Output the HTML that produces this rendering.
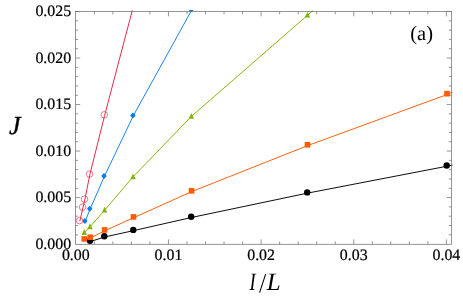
<!DOCTYPE html>
<html><head><meta charset="utf-8"><title>plot</title>
<style>
html,body{margin:0;padding:0;background:#fff;}
svg{display:block;}
text{font-family:"Liberation Serif",serif;fill:#000;text-rendering:geometricPrecision;}
svg{will-change:transform;}
</style></head>
<body>
<svg width="463" height="302" viewBox="0 0 463 302">
<rect x="0" y="0" width="463" height="302" fill="#fff"/>
<polyline points="452.60,165.15 447.15,166.20 307.65,193.10 191.65,217.45 133.70,230.60 104.75,236.95 90.49,241.50" fill="none" stroke="#000000" stroke-width="0.95"/>
<polyline points="452.60,92.10 447.45,94.40 307.92,145.50 191.95,191.53 133.95,217.60 105.01,230.65 90.60,237.95 84.75,239.65" fill="none" stroke="#ff5a00" stroke-width="0.95"/>
<polyline points="312.90,10.60 307.27,15.45 191.15,116.65 132.80,177.15 104.40,210.45 89.84,227.00 84.05,232.75" fill="none" stroke="#7fb400" stroke-width="0.95"/>
<polyline points="191.60,10.30 133.21,115.94 104.35,176.45 90.05,209.20 85.21,221.40" fill="none" stroke="#0f7bea" stroke-width="0.95"/>
<polyline points="132.30,10.40 104.60,115.50 89.80,174.80 84.80,199.90 82.90,207.85 79.80,221.30" fill="none" stroke="#e4203f" stroke-width="0.95"/>
<circle cx="446.70" cy="165.50" r="3.2" fill="#000000"/>
<circle cx="307.20" cy="192.40" r="3.2" fill="#000000"/>
<circle cx="191.20" cy="216.75" r="3.2" fill="#000000"/>
<circle cx="133.25" cy="229.90" r="3.2" fill="#000000"/>
<circle cx="104.30" cy="236.25" r="3.2" fill="#000000"/>
<circle cx="90.04" cy="240.80" r="3.2" fill="#000000"/>
<rect x="444.20" y="90.90" width="5.6" height="5.6" fill="#ff5a00"/>
<rect x="304.67" y="142.00" width="5.6" height="5.6" fill="#ff5a00"/>
<rect x="188.70" y="188.03" width="5.6" height="5.6" fill="#ff5a00"/>
<rect x="130.70" y="214.10" width="5.6" height="5.6" fill="#ff5a00"/>
<rect x="101.76" y="227.15" width="5.6" height="5.6" fill="#ff5a00"/>
<rect x="87.35" y="234.45" width="5.6" height="5.6" fill="#ff5a00"/>
<rect x="81.50" y="236.15" width="5.6" height="5.6" fill="#ff5a00"/>
<path d="M307.47 11.80 L310.17 17.60 L304.77 17.60 Z" fill="#7fb400"/>
<path d="M191.35 113.00 L194.05 118.80 L188.65 118.80 Z" fill="#7fb400"/>
<path d="M133.00 173.50 L135.70 179.30 L130.30 179.30 Z" fill="#7fb400"/>
<path d="M104.60 206.80 L107.30 212.60 L101.90 212.60 Z" fill="#7fb400"/>
<path d="M90.04 223.35 L92.74 229.15 L87.34 229.15 Z" fill="#7fb400"/>
<path d="M84.25 229.10 L86.95 234.90 L81.55 234.90 Z" fill="#7fb400"/>
<rect x="189.2" y="9.9" width="3.9" height="1.9" fill="#0f7bea"/>
<path d="M132.86 112.54 L134.36 114.04 L135.56 115.54 L134.36 117.04 L132.86 118.54 L131.36 117.04 L130.16 115.54 L131.36 114.04 Z" fill="#0f7bea"/>
<path d="M104.00 173.05 L105.50 174.55 L106.70 176.05 L105.50 177.55 L104.00 179.05 L102.50 177.55 L101.30 176.05 L102.50 174.55 Z" fill="#0f7bea"/>
<path d="M89.70 205.80 L91.20 207.30 L92.40 208.80 L91.20 210.30 L89.70 211.80 L88.20 210.30 L87.00 208.80 L88.20 207.30 Z" fill="#0f7bea"/>
<path d="M84.86 218.00 L86.36 219.50 L87.56 221.00 L86.36 222.50 L84.86 224.00 L83.36 222.50 L82.16 221.00 L83.36 219.50 Z" fill="#0f7bea"/>
<circle cx="104.30" cy="114.80" r="3.3" fill="none" stroke="#e4203f" stroke-width="0.6"/>
<circle cx="89.50" cy="174.10" r="3.3" fill="none" stroke="#e4203f" stroke-width="0.6"/>
<circle cx="84.50" cy="199.20" r="3.3" fill="none" stroke="#e4203f" stroke-width="0.6"/>
<circle cx="82.60" cy="207.15" r="3.3" fill="none" stroke="#e4203f" stroke-width="0.6"/>
<circle cx="79.50" cy="220.60" r="3.3" fill="none" stroke="#e4203f" stroke-width="0.6"/>
<path d="M94.33 244.3 v-2.9 M94.33 11.5 v2.9 M112.86 244.3 v-2.9 M112.86 11.5 v2.9 M131.39 244.3 v-2.9 M131.39 11.5 v2.9 M149.92 244.3 v-2.9 M149.92 11.5 v2.9 M168.45 244.3 v-4.9 M168.45 11.5 v4.9 M186.98 244.3 v-2.9 M186.98 11.5 v2.9 M205.51 244.3 v-2.9 M205.51 11.5 v2.9 M224.04 244.3 v-2.9 M224.04 11.5 v2.9 M242.57 244.3 v-2.9 M242.57 11.5 v2.9 M261.10 244.3 v-4.9 M261.10 11.5 v4.9 M279.63 244.3 v-2.9 M279.63 11.5 v2.9 M298.16 244.3 v-2.9 M298.16 11.5 v2.9 M316.69 244.3 v-2.9 M316.69 11.5 v2.9 M335.22 244.3 v-2.9 M335.22 11.5 v2.9 M353.75 244.3 v-4.9 M353.75 11.5 v4.9 M372.28 244.3 v-2.9 M372.28 11.5 v2.9 M390.81 244.3 v-2.9 M390.81 11.5 v2.9 M409.34 244.3 v-2.9 M409.34 11.5 v2.9 M427.87 244.3 v-2.9 M427.87 11.5 v2.9 M446.40 244.3 v-4.9 M446.40 11.5 v4.9 M75.5 234.80 h2.6 M451.4 234.80 h-2.6 M75.5 225.49 h2.6 M451.4 225.49 h-2.6 M75.5 216.19 h2.6 M451.4 216.19 h-2.6 M75.5 206.88 h2.6 M451.4 206.88 h-2.6 M75.5 197.58 h4.7 M451.4 197.58 h-4.7 M75.5 188.28 h2.6 M451.4 188.28 h-2.6 M75.5 178.97 h2.6 M451.4 178.97 h-2.6 M75.5 169.67 h2.6 M451.4 169.67 h-2.6 M75.5 160.36 h2.6 M451.4 160.36 h-2.6 M75.5 151.06 h4.7 M451.4 151.06 h-4.7 M75.5 141.76 h2.6 M451.4 141.76 h-2.6 M75.5 132.45 h2.6 M451.4 132.45 h-2.6 M75.5 123.15 h2.6 M451.4 123.15 h-2.6 M75.5 113.84 h2.6 M451.4 113.84 h-2.6 M75.5 104.54 h4.7 M451.4 104.54 h-4.7 M75.5 95.24 h2.6 M451.4 95.24 h-2.6 M75.5 85.93 h2.6 M451.4 85.93 h-2.6 M75.5 76.63 h2.6 M451.4 76.63 h-2.6 M75.5 67.32 h2.6 M451.4 67.32 h-2.6 M75.5 58.02 h4.7 M451.4 58.02 h-4.7 M75.5 48.72 h2.6 M451.4 48.72 h-2.6 M75.5 39.41 h2.6 M451.4 39.41 h-2.6 M75.5 30.11 h2.6 M451.4 30.11 h-2.6 M75.5 20.80 h2.6 M451.4 20.80 h-2.6 M75.5 11.50 h4.7 M451.4 11.50 h-4.7" fill="none" stroke="#737373" stroke-width="0.75"/>
<rect x="75.5" y="11.5" width="375.90" height="232.80" fill="none" stroke="#737373" stroke-width="0.75"/>
<g>
<text x="71.2" y="248.70" text-anchor="end" font-size="15.9" stroke="#000" stroke-width="0.22">0.000</text>
<text x="71.2" y="202.18" text-anchor="end" font-size="15.9" stroke="#000" stroke-width="0.22">0.005</text>
<text x="71.2" y="155.66" text-anchor="end" font-size="15.9" stroke="#000" stroke-width="0.22">0.010</text>
<text x="71.2" y="109.14" text-anchor="end" font-size="15.9" stroke="#000" stroke-width="0.22">0.015</text>
<text x="71.2" y="62.62" text-anchor="end" font-size="15.9" stroke="#000" stroke-width="0.22">0.020</text>
<text x="71.2" y="16.10" text-anchor="end" font-size="15.9" stroke="#000" stroke-width="0.22">0.025</text>
<text x="75.80" y="259.6" text-anchor="middle" font-size="15.9" stroke="#000" stroke-width="0.22">0.00</text>
<text x="168.45" y="259.6" text-anchor="middle" font-size="15.9" stroke="#000" stroke-width="0.22">0.01</text>
<text x="261.10" y="259.6" text-anchor="middle" font-size="15.9" stroke="#000" stroke-width="0.22">0.02</text>
<text x="353.75" y="259.6" text-anchor="middle" font-size="15.9" stroke="#000" stroke-width="0.22">0.03</text>
<text x="446.40" y="259.6" text-anchor="middle" font-size="15.9" stroke="#000" stroke-width="0.22">0.04</text>
<text x="9.0" y="134.2" font-size="26" font-style="italic" stroke="#000" stroke-width="0.35">J</text>
<text transform="translate(249.5,289.7) scale(0.74,1)" x="0" y="0" font-size="25" font-style="italic">I</text>
<line x1="265.7" y1="273.8" x2="259.6" y2="292.7" stroke="#000" stroke-width="1.05"/>
<text x="266.8" y="289.7" font-size="25" font-style="italic">L</text>
<text x="421.6" y="39.7" font-size="20.5" text-anchor="middle">(a)</text>
</g>
</svg>
</body></html>
